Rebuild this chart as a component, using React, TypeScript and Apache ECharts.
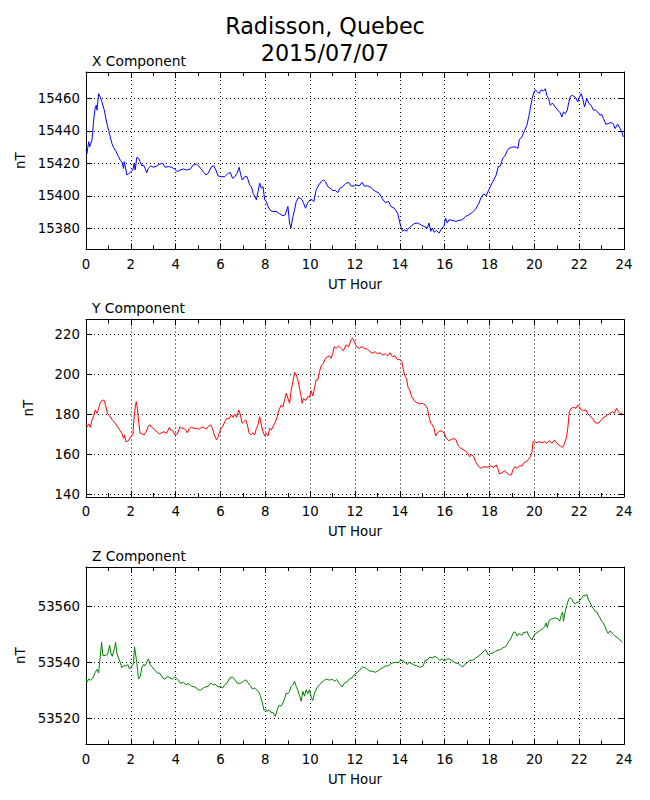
import React, { useEffect, useRef } from "react";
import * as echarts from "echarts";

const FONT = "DejaVu Sans";

// X component (nT) — [UT hour, value]
const xComponent: [number, number][] = [
  [0, 15428.2], [0.044, 15426.1], [0.119, 15433.3], [0.163, 15430.2], [0.267, 15434.3], [0.341, 15446.5],
  [0.415, 15454.7], [0.459, 15455.7], [0.489, 15452.7], [0.563, 15462.9], [0.637, 15460.8], [0.711, 15457.8],
  [0.815, 15452.7], [0.933, 15444.5], [1.007, 15440.4], [1.081, 15436.3], [1.156, 15432.2], [1.23, 15429.8],
  [1.348, 15427.1], [1.452, 15424.1], [1.526, 15422.0], [1.6, 15421.0], [1.674, 15416.9], [1.704, 15421.0],
  [1.748, 15418.4], [1.822, 15412.9], [1.896, 15413.5], [2.0, 15414.9], [2.089, 15415.9], [2.148, 15420.0],
  [2.193, 15415.9], [2.267, 15423.7], [2.341, 15423.1], [2.415, 15421.0], [2.489, 15418.4], [2.563, 15419.0],
  [2.637, 15416.9], [2.711, 15414.3], [2.785, 15416.9], [2.889, 15418.4], [3.007, 15417.6], [3.156, 15418.4],
  [3.304, 15419.6], [3.422, 15420.0], [3.526, 15417.6], [3.674, 15418.0], [3.822, 15417.6], [3.97, 15416.3],
  [4.074, 15414.9], [4.193, 15415.9], [4.341, 15416.5], [4.489, 15415.9], [4.637, 15416.3], [4.785, 15419.0],
  [4.933, 15419.6], [5.081, 15417.6], [5.23, 15414.9], [5.348, 15412.9], [5.452, 15413.9], [5.6, 15418.0],
  [5.704, 15418.4], [5.793, 15415.9], [5.896, 15412.2], [6.044, 15411.8], [6.193, 15411.8], [6.341, 15413.9],
  [6.444, 15414.3], [6.533, 15410.8], [6.637, 15411.8], [6.741, 15413.9], [6.83, 15417.6], [6.904, 15412.9],
  [6.978, 15409.8], [7.081, 15411.8], [7.185, 15411.8], [7.23, 15409.8], [7.304, 15406.7], [7.378, 15405.7],
  [7.452, 15401.6], [7.526, 15400.0], [7.6, 15397.6], [7.674, 15402.7], [7.748, 15407.8], [7.822, 15404.7],
  [7.896, 15405.7], [7.97, 15397.6], [8.044, 15396.5], [8.119, 15393.5], [8.222, 15391.0], [8.341, 15390.4],
  [8.489, 15390.4], [8.637, 15389.0], [8.785, 15387.8], [8.889, 15388.4], [9.007, 15393.5], [9.081, 15383.3],
  [9.141, 15380.2], [9.23, 15387.3], [9.304, 15391.4], [9.378, 15396.5], [9.452, 15398.6], [9.556, 15398.6],
  [9.644, 15397.6], [9.704, 15395.5], [9.793, 15392.4], [9.896, 15395.9], [10.0, 15397.6], [10.089, 15397.6],
  [10.163, 15396.5], [10.267, 15403.7], [10.385, 15406.7], [10.489, 15408.8], [10.593, 15409.8], [10.681, 15408.8],
  [10.785, 15405.7], [10.889, 15404.7], [11.007, 15403.3], [11.126, 15403.3], [11.23, 15402.0], [11.333, 15404.7],
  [11.452, 15405.7], [11.6, 15407.8], [11.719, 15408.2], [11.822, 15406.1], [11.97, 15406.1], [12.04, 15406.7],
  [12.19, 15406.1], [12.31, 15408.2], [12.41, 15406.1], [12.56, 15406.1], [12.71, 15405.3], [12.81, 15403.7],
  [12.93, 15402.7], [13.08, 15401.6], [13.23, 15398.0], [13.35, 15395.9], [13.5, 15396.5], [13.6, 15393.5],
  [13.75, 15392.4], [13.9, 15389.4], [13.97, 15385.3], [14.04, 15381.2], [14.12, 15378.2], [14.19, 15379.2],
  [14.3, 15378.2], [14.39, 15380.2], [14.49, 15381.2], [14.64, 15382.9], [14.79, 15383.3], [14.93, 15382.2],
  [15.08, 15381.2], [15.23, 15380.2], [15.3, 15383.3], [15.38, 15378.2], [15.45, 15380.2], [15.53, 15377.6],
  [15.63, 15378.8], [15.75, 15377.1], [15.87, 15380.2], [15.97, 15381.2], [16.04, 15386.3], [16.12, 15383.3],
  [16.19, 15385.3], [16.34, 15384.9], [16.49, 15384.3], [16.64, 15384.9], [16.79, 15385.3], [16.93, 15387.3],
  [17.08, 15388.4], [17.23, 15389.8], [17.38, 15391.8], [17.53, 15395.5], [17.64, 15399.6], [17.75, 15401.2],
  [17.85, 15400.0], [17.97, 15403.7], [18.09, 15407.3], [18.19, 15409.8], [18.3, 15412.9], [18.39, 15418.0],
  [18.49, 15418.4], [18.59, 15423.1], [18.71, 15425.1], [18.79, 15427.8], [18.86, 15429.2], [18.98, 15429.8],
  [19.08, 15430.2], [19.19, 15429.8], [19.27, 15429.2], [19.33, 15434.7], [19.45, 15436.3], [19.57, 15440.4],
  [19.67, 15443.5], [19.75, 15448.6], [19.82, 15453.7], [19.9, 15459.8], [19.97, 15463.3], [20.04, 15465.3],
  [20.15, 15463.9], [20.22, 15462.9], [20.31, 15465.3], [20.41, 15464.5], [20.49, 15465.9], [20.56, 15461.8],
  [20.64, 15459.8], [20.71, 15455.7], [20.81, 15457.1], [20.93, 15454.7], [21.05, 15452.7], [21.16, 15451.0],
  [21.23, 15448.6], [21.3, 15451.6], [21.38, 15450.6], [21.47, 15452.7], [21.53, 15457.1], [21.6, 15461.2],
  [21.7, 15461.8], [21.82, 15460.8], [21.94, 15457.8], [22.0, 15460.4], [22.09, 15462.9], [22.16, 15459.8],
  [22.24, 15454.7], [22.34, 15459.8], [22.44, 15456.7], [22.53, 15455.7], [22.64, 15452.7], [22.74, 15452.7],
  [22.83, 15451.6], [22.93, 15449.6], [23.0, 15450.2], [23.08, 15447.6], [23.19, 15444.1], [23.3, 15444.5],
  [23.42, 15445.1], [23.53, 15444.1], [23.6, 15441.4], [23.72, 15444.1], [23.82, 15441.4], [23.9, 15439.4],
  [23.97, 15436.3],
];

// Y component (nT)
const yComponent: [number, number][] = [
  [0, 174.7], [0.044, 173.8], [0.119, 175.2], [0.193, 173.5], [0.267, 177.2], [0.341, 179.2], [0.415, 182.2],
  [0.489, 180.5], [0.563, 183.0], [0.637, 185.8], [0.741, 187.2], [0.815, 186.8], [0.889, 183.8], [0.963, 180.2],
  [1.052, 179.2], [1.156, 177.5], [1.304, 175.5], [1.452, 173.0], [1.6, 170.5], [1.674, 168.0], [1.719, 169.7],
  [1.778, 166.3], [1.896, 166.8], [2.0, 168.8], [2.089, 169.7], [2.148, 178.8], [2.207, 184.7], [2.252, 186.3],
  [2.296, 182.2], [2.356, 175.5], [2.415, 170.5], [2.489, 170.2], [2.593, 169.7], [2.681, 171.3], [2.785, 174.2],
  [2.859, 174.7], [2.933, 173.5], [3.037, 172.5], [3.156, 171.3], [3.274, 170.2], [3.378, 170.8], [3.481, 171.3],
  [3.6, 170.5], [3.719, 173.5], [3.778, 172.2], [3.867, 171.8], [3.97, 169.7], [4.074, 170.2], [4.193, 173.8],
  [4.267, 173.0], [4.37, 173.0], [4.459, 171.8], [4.519, 170.8], [4.607, 173.0], [4.711, 173.5], [4.815, 173.0],
  [4.933, 173.0], [5.052, 172.5], [5.156, 173.5], [5.259, 173.5], [5.348, 172.5], [5.452, 173.8], [5.556, 174.7],
  [5.644, 173.0], [5.719, 169.7], [5.822, 167.2], [5.896, 168.8], [6.0, 172.5], [6.089, 173.8], [6.193, 176.3],
  [6.267, 178.0], [6.385, 178.0], [6.489, 179.7], [6.563, 178.5], [6.637, 180.2], [6.711, 178.5], [6.815, 182.2],
  [6.889, 179.7], [6.963, 175.5], [7.037, 176.3], [7.126, 177.2], [7.2, 174.7], [7.274, 170.8], [7.348, 169.7],
  [7.452, 170.8], [7.526, 169.7], [7.6, 173.0], [7.674, 174.7], [7.748, 178.8], [7.822, 174.7], [7.896, 171.3],
  [7.97, 169.2], [8.044, 170.5], [8.119, 169.2], [8.193, 173.0], [8.267, 172.2], [8.341, 173.8], [8.415, 175.5],
  [8.489, 177.2], [8.563, 180.5], [8.637, 183.0], [8.711, 184.7], [8.785, 183.8], [8.859, 187.2], [8.933, 190.5],
  [9.007, 188.0], [9.081, 185.5], [9.156, 192.2], [9.23, 196.3], [9.304, 201.0], [9.378, 199.7], [9.452, 197.2],
  [9.526, 193.0], [9.6, 188.8], [9.644, 185.5], [9.704, 188.0], [9.793, 186.8], [9.896, 188.8], [9.97, 188.5],
  [10.044, 191.8], [10.119, 189.2], [10.193, 193.0], [10.267, 197.2], [10.341, 197.2], [10.415, 201.3],
  [10.489, 204.2], [10.593, 205.5], [10.681, 208.0], [10.785, 208.8], [10.859, 209.2], [10.933, 208.0],
  [11.007, 210.5], [11.081, 213.8], [11.156, 213.0], [11.267, 214.2], [11.37, 213.0], [11.481, 211.8],
  [11.6, 214.7], [11.719, 213.8], [11.822, 217.2], [11.896, 218.0], [11.97, 216.3], [12.07, 213.8], [12.19, 213.0],
  [12.31, 213.8], [12.41, 213.0], [12.56, 212.5], [12.67, 211.3], [12.79, 210.5], [12.9, 211.3], [13.01, 210.2],
  [13.1, 210.8], [13.23, 209.7], [13.35, 210.2], [13.45, 209.2], [13.56, 210.8], [13.67, 208.8], [13.79, 209.2],
  [13.9, 207.2], [14.0, 207.5], [14.09, 206.3], [14.16, 202.2], [14.24, 198.8], [14.3, 198.0], [14.36, 193.8],
  [14.44, 192.2], [14.53, 188.8], [14.64, 186.8], [14.76, 185.8], [14.89, 185.2], [15.0, 185.5], [15.13, 184.7],
  [15.23, 183.0], [15.3, 178.8], [15.38, 175.5], [15.45, 174.7], [15.53, 173.0], [15.6, 169.2], [15.67, 170.5],
  [15.78, 171.8], [15.9, 171.3], [15.97, 170.8], [16.07, 168.0], [16.19, 166.8], [16.31, 167.5], [16.41, 167.8],
  [16.49, 167.5], [16.61, 164.2], [16.72, 163.0], [16.86, 162.2], [17.01, 160.8], [17.11, 158.8], [17.2, 159.7],
  [17.3, 158.8], [17.38, 156.3], [17.5, 154.2], [17.6, 153.0], [17.75, 153.8], [17.9, 153.5], [18.04, 154.2],
  [18.19, 153.5], [18.3, 154.7], [18.39, 152.5], [18.44, 150.2], [18.56, 150.8], [18.68, 151.8], [18.79, 150.5],
  [18.89, 149.7], [18.98, 149.7], [19.04, 152.2], [19.13, 153.8], [19.23, 153.0], [19.33, 154.2], [19.45, 154.2],
  [19.53, 155.8], [19.63, 156.3], [19.75, 157.5], [19.82, 158.8], [19.9, 161.3], [19.94, 166.3], [20.01, 166.3],
  [20.12, 165.8], [20.22, 166.3], [20.34, 165.8], [20.46, 166.3], [20.56, 165.5], [20.67, 166.8], [20.79, 165.5],
  [20.9, 167.2], [21.0, 165.5], [21.1, 164.7], [21.19, 163.8], [21.26, 163.5], [21.35, 165.5], [21.44, 168.8],
  [21.5, 173.8], [21.56, 181.3], [21.64, 183.0], [21.75, 183.5], [21.85, 183.0], [21.94, 184.7], [22.0, 183.8],
  [22.09, 182.2], [22.19, 181.8], [22.3, 182.2], [22.39, 180.2], [22.49, 179.2], [22.59, 178.0], [22.71, 175.8],
  [22.83, 175.5], [22.93, 176.3], [23.04, 178.0], [23.16, 178.8], [23.27, 179.7], [23.37, 180.5], [23.48, 181.3],
  [23.57, 180.5], [23.67, 183.0], [23.75, 181.3], [23.82, 180.5], [23.93, 180.5],
];

// Z component (nT)
const zComponent: [number, number][] = [
  [0, 53534.4], [0.044, 53532.9], [0.119, 53534.0], [0.193, 53533.6], [0.311, 53534.4], [0.415, 53536.4],
  [0.489, 53537.4], [0.563, 53536.2], [0.637, 53542.1], [0.696, 53547.1], [0.756, 53542.4], [0.859, 53542.4],
  [0.963, 53542.7], [1.052, 53546.0], [1.111, 53543.3], [1.17, 53542.1], [1.259, 53544.5], [1.319, 53547.1],
  [1.378, 53543.3], [1.452, 53541.5], [1.526, 53540.0], [1.6, 53538.0], [1.674, 53538.8], [1.778, 53538.6],
  [1.867, 53539.2], [1.941, 53537.6], [2.044, 53538.6], [2.119, 53539.5], [2.163, 53545.5], [2.207, 53543.3],
  [2.267, 53539.8], [2.341, 53534.0], [2.415, 53534.8], [2.489, 53538.0], [2.563, 53539.2], [2.637, 53538.8],
  [2.711, 53540.0], [2.785, 53541.2], [2.859, 53539.2], [2.978, 53538.0], [3.081, 53537.1], [3.185, 53536.2],
  [3.304, 53536.0], [3.422, 53534.4], [3.526, 53534.0], [3.63, 53535.0], [3.748, 53534.4], [3.867, 53534.0],
  [3.97, 53534.8], [4.119, 53533.6], [4.222, 53532.4], [4.341, 53532.9], [4.459, 53532.0], [4.563, 53532.4],
  [4.711, 53531.4], [4.859, 53531.2], [5.007, 53530.2], [5.111, 53530.0], [5.23, 53530.8], [5.348, 53531.2],
  [5.452, 53531.4], [5.556, 53532.6], [5.667, 53532.0], [5.793, 53532.0], [5.896, 53531.2], [6.0, 53531.4],
  [6.089, 53530.8], [6.193, 53532.0], [6.296, 53532.6], [6.415, 53534.4], [6.533, 53534.8], [6.637, 53533.8],
  [6.741, 53532.6], [6.859, 53532.4], [6.978, 53532.9], [7.081, 53533.6], [7.156, 53533.6], [7.23, 53532.6],
  [7.333, 53531.7], [7.422, 53530.5], [7.526, 53530.8], [7.63, 53530.0], [7.719, 53529.3], [7.778, 53527.9],
  [7.867, 53525.5], [7.941, 53522.9], [8.015, 53523.3], [8.089, 53522.5], [8.193, 53522.9], [8.267, 53521.9],
  [8.341, 53522.1], [8.444, 53520.7], [8.533, 53523.1], [8.593, 53524.5], [8.711, 53524.5], [8.785, 53525.5],
  [8.859, 53526.9], [8.933, 53529.0], [9.007, 53528.8], [9.081, 53529.6], [9.156, 53531.4], [9.23, 53532.0],
  [9.304, 53533.2], [9.378, 53531.4], [9.452, 53530.0], [9.526, 53528.1], [9.6, 53526.1], [9.674, 53529.6],
  [9.748, 53527.9], [9.822, 53530.2], [9.896, 53528.8], [9.97, 53530.2], [10.044, 53527.6], [10.119, 53526.4],
  [10.193, 53529.0], [10.296, 53530.8], [10.415, 53532.0], [10.533, 53532.9], [10.637, 53533.6], [10.741, 53534.0],
  [10.859, 53533.6], [10.978, 53534.0], [11.081, 53533.2], [11.185, 53533.8], [11.304, 53532.4], [11.422, 53531.2],
  [11.533, 53532.6], [11.63, 53532.9], [11.748, 53534.0], [11.867, 53534.4], [11.97, 53535.6], [12.12, 53536.4],
  [12.22, 53537.4], [12.34, 53538.3], [12.46, 53538.0], [12.56, 53537.4], [12.67, 53536.8], [12.79, 53536.8],
  [12.9, 53536.4], [13.01, 53536.8], [13.1, 53537.4], [13.23, 53538.0], [13.35, 53538.6], [13.5, 53538.8],
  [13.6, 53539.5], [13.7, 53539.8], [13.82, 53540.0], [13.94, 53539.8], [14.04, 53540.7], [14.15, 53540.4],
  [14.24, 53539.8], [14.34, 53539.2], [14.41, 53540.0], [14.53, 53539.5], [14.64, 53539.0], [14.79, 53538.6],
  [14.93, 53538.2], [15.04, 53538.6], [15.13, 53540.7], [15.23, 53540.7], [15.33, 53541.8], [15.45, 53541.5],
  [15.57, 53542.1], [15.67, 53541.5], [15.78, 53540.7], [15.9, 53541.2], [15.97, 53540.4], [16.07, 53541.0],
  [16.19, 53541.2], [16.31, 53540.7], [16.46, 53539.8], [16.61, 53539.5], [16.71, 53538.8], [16.81, 53538.3],
  [16.9, 53539.2], [17.01, 53539.8], [17.11, 53540.7], [17.26, 53540.7], [17.38, 53541.5], [17.5, 53542.1],
  [17.64, 53543.1], [17.75, 53543.9], [17.82, 53544.5], [17.94, 53542.7], [18.04, 53543.1], [18.15, 53543.3],
  [18.27, 53543.9], [18.39, 53544.3], [18.49, 53544.5], [18.59, 53545.1], [18.71, 53545.5], [18.79, 53546.3],
  [18.86, 53547.5], [18.93, 53548.1], [19.01, 53549.5], [19.08, 53550.7], [19.16, 53550.7], [19.23, 53549.3],
  [19.3, 53550.2], [19.38, 53549.9], [19.45, 53549.5], [19.53, 53550.7], [19.6, 53550.5], [19.67, 53551.0],
  [19.75, 53549.5], [19.82, 53548.7], [19.9, 53547.9], [19.97, 53549.3], [20.04, 53550.2], [20.16, 53550.7],
  [20.27, 53551.4], [20.37, 53551.9], [20.46, 53552.6], [20.52, 53554.0], [20.58, 53552.3], [20.64, 53554.3],
  [20.71, 53555.2], [20.81, 53555.5], [20.93, 53555.8], [21.05, 53555.5], [21.13, 53554.6], [21.2, 53556.7],
  [21.26, 53557.9], [21.3, 53554.6], [21.38, 53558.2], [21.45, 53560.2], [21.53, 53562.4], [21.6, 53563.0],
  [21.67, 53562.4], [21.75, 53561.2], [21.82, 53560.8], [21.9, 53561.4], [21.97, 53561.2], [22.04, 53562.1],
  [22.12, 53563.0], [22.19, 53563.8], [22.27, 53563.6], [22.34, 53564.2], [22.41, 53562.4], [22.49, 53561.2],
  [22.56, 53560.0], [22.64, 53559.0], [22.71, 53558.2], [22.79, 53557.9], [22.86, 53556.7], [22.93, 53555.8],
  [23.0, 53554.6], [23.08, 53554.0], [23.16, 53552.6], [23.23, 53551.1], [23.3, 53550.2], [23.37, 53551.1],
  [23.45, 53550.7], [23.53, 53549.9], [23.6, 53549.3], [23.72, 53548.7], [23.82, 53547.9], [23.93, 53547.1],
];

const mainTitle = "Radisson, Quebec\n2015/07/07";
const panelTitles = ["X Component", "Y Component", "Z Component"];
const panelData = [xComponent, yComponent, zComponent];
const panelColors = ["#0000ff", "#ff0000", "#008000"];
const panelMin = [15367.0, 138.65, 53510.7];
const panelMax = [15476.2, 227.4, 53573.9];
const yStep = 20;
const hourMin = 0;
const hourMax = 24;
const hourStep = 2;
const xAxisTitle = "UT Hour";
const yAxisTitle = "nT";

const PANEL_TOPS = [72, 319.5, 567];
const PANEL_H = 177.5;
const PANEL_LEFT = 86;
const PANEL_W = 538;

const black = "#000000";
const dotted = { color: black, width: 1, type: [1, 3] as number[] };

export default function App() {
  const ref = useRef<HTMLDivElement>(null);

  useEffect(() => {
    if (!ref.current) return;
    const chart = echarts.init(ref.current, null, { renderer: "svg" });

    const grid = PANEL_TOPS.map((t) => ({
      left: PANEL_LEFT,
      top: t,
      width: PANEL_W,
      height: PANEL_H,
      containLabel: false,
    }));

    const xAxis: any[] = [];
    const yAxis: any[] = [];
    panelData.forEach((_, i) => {
      for (const pos of ["bottom", "top"]) {
        const main = pos === "bottom";
        xAxis.push({
          type: "value",
          gridIndex: i,
          position: pos,
          min: hourMin,
          max: hourMax,
          interval: hourStep,
          axisLine: { show: true, onZero: false, lineStyle: { color: black, width: 1 } },
          axisTick: { show: true, inside: true, length: 6, lineStyle: { color: black, width: 1 } },
          minorTick: { show: true, splitNumber: 2, length: 4, lineStyle: { color: black, width: 1 } },
          axisLabel: main
            ? { show: true, color: black, fontSize: 13.3, fontFamily: FONT, margin: 8 }
            : { show: false },
          splitLine: { show: main, lineStyle: dotted },
          name: main ? xAxisTitle : "",
          nameLocation: "middle",
          nameGap: 28,
          nameTextStyle: { color: black, fontSize: 13.3, fontFamily: FONT },
        });
      }
      for (const pos of ["left", "right"]) {
        const main = pos === "left";
        yAxis.push({
          type: "value",
          gridIndex: i,
          position: pos,
          min: panelMin[i],
          max: panelMax[i],
          minInterval: yStep,
          maxInterval: yStep,
          splitNumber: 5,
          axisLine: { show: true, onZero: false, lineStyle: { color: black, width: 1 } },
          axisTick: { show: true, inside: true, length: 6, lineStyle: { color: black, width: 1 } },
          axisLabel: main
            ? {
                show: true,
                showMinLabel: false,
                showMaxLabel: false,
                color: black,
                fontSize: 13.3,
                fontFamily: FONT,
                margin: 6,
                formatter: (v: number) => String(Math.round(v)),
              }
            : { show: false },
          splitLine: { show: main, lineStyle: dotted },
          name: main ? yAxisTitle : "",
          nameLocation: "middle",
          nameGap: 51,
          nameTextStyle: { color: black, fontSize: 13.3, fontFamily: FONT },
        });
      }
    });

    const series = panelData.map((d, i) => ({
      type: "line",
      xAxisIndex: 2 * i,
      yAxisIndex: 2 * i,
      data: d,
      showSymbol: false,
      symbol: "none",
      silent: true,
      lineStyle: { color: panelColors[i], width: 1 },
      itemStyle: { color: panelColors[i] },
    }));

    const title: any[] = [
      {
        text: mainTitle,
        left: "center",
        top: 12.5,
        padding: 0,
        textStyle: { color: black, fontSize: 22.3, fontWeight: "normal", lineHeight: 27, fontFamily: FONT },
      },
      ...panelTitles.map((t, i) => ({
        text: t,
        left: 92,
        top: PANEL_TOPS[i] - 18.5,
        padding: 0,
        textStyle: { color: black, fontSize: 13.8, fontWeight: "normal", fontFamily: FONT },
      })),
    ];

    chart.setOption({
      animation: false,
      backgroundColor: "#ffffff",
      textStyle: { fontFamily: FONT },
      title,
      grid,
      xAxis,
      yAxis,
      series,
    });

    return () => chart.dispose();
  }, []);

  return (
    <div
      ref={ref}
      style={{ position: "absolute", left: 0, top: 0, width: 650, height: 800, background: "#fff" }}
    />
  );
}
